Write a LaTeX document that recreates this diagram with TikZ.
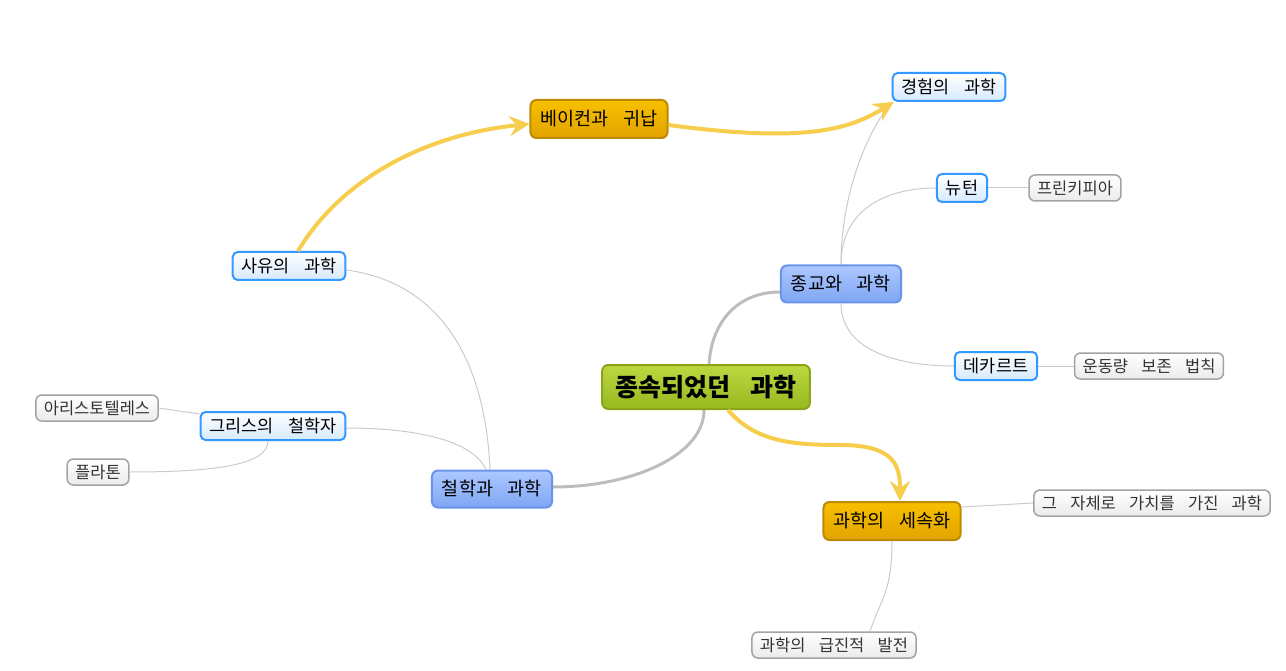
\documentclass[tikz,border=0pt]{standalone}
\usepackage{fontspec}
\setmainfont[WordSpace=3.6]{Noto Sans CJK KR}
\usetikzlibrary{arrows.meta,positioning,backgrounds}
\definecolor{greentop}{HTML}{BCD841}
\definecolor{greenbot}{HTML}{98B81F}
\definecolor{greenline}{HTML}{8CA41C}
\definecolor{orangetop}{HTML}{F7C000}
\definecolor{orangebot}{HTML}{E2A300}
\definecolor{orangeline}{HTML}{BD8A06}
\definecolor{bluetop}{HTML}{ADC8FF}
\definecolor{bluebot}{HTML}{7FA5F3}
\definecolor{blueline}{HTML}{6A94EC}
\definecolor{skyline}{HTML}{3399FF}
\definecolor{skybot}{HTML}{D6EAFF}
\definecolor{leafline}{HTML}{A3A3A3}
\definecolor{leafbot}{HTML}{EBEBEB}
\definecolor{flowyellow}{HTML}{F6CD4C}
\definecolor{trunkgray}{HTML}{BDBDBD}
\definecolor{twiggray}{HTML}{CBCBCB}

\begin{document}
\begin{tikzpicture}[x=1pt,y=-1pt,>=Stealth,
  box/.style={rounded corners=6pt,inner ysep=0pt,text=black},
  root/.style={box,top color=greentop,bottom color=greenbot,draw=greenline,line width=2pt,
    minimum height=44pt,inner xsep=13pt,font=\fontsize{25}{29}\selectfont\bfseries},
  main/.style={box,top color=orangetop,bottom color=orangebot,draw=orangeline,line width=2pt,
    minimum height=38pt,inner xsep=10pt,font=\fontsize{18.5}{22}\selectfont},
  topic/.style={box,top color=bluetop,bottom color=bluebot,draw=blueline,line width=2pt,
    minimum height=37pt,inner xsep=10pt,font=\fontsize{18.5}{22}\selectfont},
  sub/.style={box,rounded corners=5pt,top color=white,bottom color=skybot,draw=skyline,line width=2pt,
    minimum height=28pt,inner xsep=9pt,font=\fontsize{17.5}{21}\selectfont},
  leaf/.style={box,rounded corners=6pt,top color=white,bottom color=leafbot,draw=leafline,line width=1.5pt,
    minimum height=26pt,inner xsep=8pt,text=black!80,font=\fontsize{16.5}{20}\selectfont},
  trunk/.style={trunkgray,line width=3pt},
  twig/.style={twiggray,line width=1pt},
  flow/.style={flowyellow,line width=4pt,-{Stealth[length=20pt,width=20pt,inset=7pt]}}]
\useasboundingbox (0,0) rectangle (1286,671);
\node[root]  (root)      at (706,387) {종속되었던 과학};
\node[main]  (bacon)     at (599,119) {베이컨과 귀납};
\node[main]  (secular)   at (892,521) {과학의 세속화};
\node[topic] (religion)  at (841,284) {종교와 과학};
\node[topic] (philos)    at (492,489) {철학과 과학};
\node[sub]   (empir)     at (949,87)  {경험의 과학};
\node[sub]   (newton)    at (962,188) {뉴턴};
\node[sub]   (descartes) at (996,366) {데카르트};
\node[sub]   (thought)   at (289,266) {사유의 과학};
\node[sub]   (greek)     at (273,426) {그리스의 철학자};
\node[leaf]  (principia) at (1075,188) {프린키피아};
\node[leaf]  (momentum)  at (1149,366) {운동량 보존 법칙};
\node[leaf]  (aristotle) at (97,408)  {아리스토텔레스};
\node[leaf]  (plato)     at (98,472)  {플라톤};
\node[leaf]  (itself)    at (1152,503) {그 자체로 가치를 가진 과학};
\node[leaf]  (radical)   at (834,645) {과학의 급진적 발전};
% branches go under the boxes
\begin{scope}[on background layer]
\draw[trunk] ([xshift=3pt]root.north) .. controls +(3,-45) and +(-40,0) .. ([yshift=-8pt]religion.west);
\draw[trunk] ([xshift=-2pt]root.south) .. controls +(0,45) and +(80,0) .. ([yshift=2pt]philos.east);
\draw[twig] (religion.north) .. controls +(0,-70) and +(-25,30) .. (empir.south west);
\draw[twig] (religion.north) .. controls +(0,-55) and +(-50,0) .. (newton.west);
\draw[twig] (religion.south) .. controls +(0,45) and +(-60,0) .. (descartes.west);
\draw[twig] (newton) -- (principia);
\draw[twig] (descartes) -- (momentum);
\draw[twig] ([xshift=-2pt]philos.north) .. controls +(-5,-115) and +(90,12) .. ([yshift=-4pt]thought.east);
\draw[twig] ([xshift=-6pt]philos.north) .. controls +(-15,-32) and +(60,0) .. ([yshift=-2pt]greek.east);
\draw[twig] ([yshift=12pt]greek.west) -- (aristotle.east);
\draw[twig] ([xshift=-5pt]greek.south) .. controls +(0,25) and +(80,0) .. (plato.east);
\draw[twig] ([yshift=14pt]secular.east) -- (itself.west);
\draw[twig] (secular.south) .. controls +(0,50) and +(12,-35) .. ([xshift=36pt]radical.north);
\end{scope}
\draw[flow] ([xshift=9pt]thought.north) .. controls +(45,-75) and +(-100,10) .. ([yshift=-5pt]bacon.west);
\draw[flow] ([yshift=-6pt]bacon.east) .. controls +(135,18) and +(-45,28) .. ([xshift=2pt]empir.south west);
\draw[flow] ([xshift=22pt]root.south) .. controls +(27,31) and +(-50,0) .. (840,445)
  .. controls +(55,0) and +(0,-35) .. ([xshift=8pt]secular.north);
\end{tikzpicture}
\end{document}
